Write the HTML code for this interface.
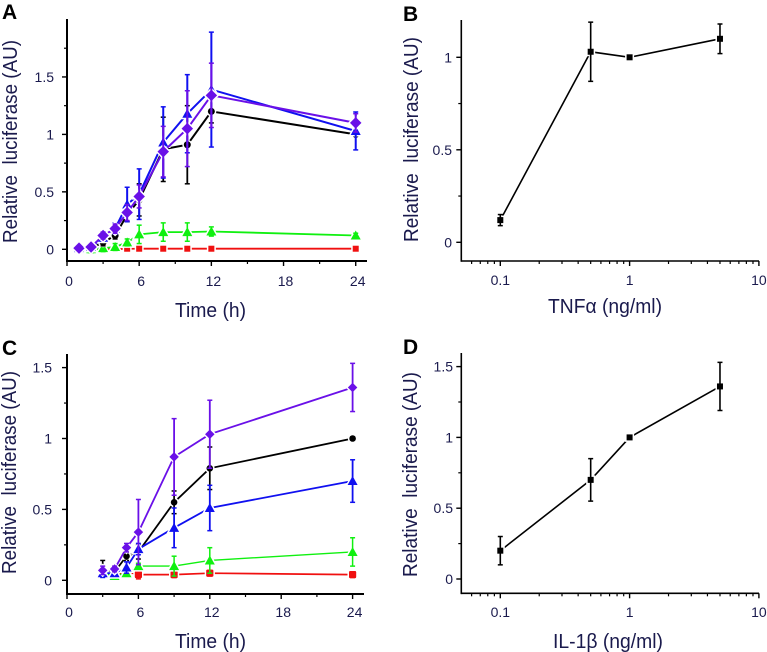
<!DOCTYPE html>
<html>
<head>
<meta charset="utf-8">
<title>Relative luciferase charts</title>
<style>
html,body{margin:0;padding:0;background:#fff;}
svg{display:block;}
text{font-family:"Liberation Sans",sans-serif;fill:#1a1a4d;white-space:pre;}
</style>
</head>
<body>
<svg id="fig" width="767" height="652" viewBox="0 0 767 652" xmlns="http://www.w3.org/2000/svg"></svg>
<script>
// Panel A
const hoursA = [1, 2, 3, 4, 5, 6, 8, 10, 12, 24];
const redA = [0, 0, 0, 0, 0.005, 0.005, 0.005, 0.005, 0.005, 0.005];
const redAErr = [0, 0, 0, 0, 0, 0, 0, 0, 0, 0];
const greenA = [0, 0, 0.01, 0.02, 0.06, 0.13, 0.15, 0.15, 0.155, 0.12];
const greenAErr = [0.01, 0.03, 0.03, 0.03, 0.03, 0.08, 0.08, 0.08, 0.04, 0.02];
const blackA = [0.01, 0.01, 0.06, 0.12, 0.3, 0.43, 0.87, 0.91, 1.2, 1.0];
const blackAErr = [0.01, 0.02, 0.03, 0.03, 0.06, 0.14, 0.28, 0.34, 0.1, 0.01];
const blueA = [0.01, 0.02, 0.1, 0.18, 0.39, 0.48, 0.93, 1.18, 1.39, 1.03];
const blueAErr = [0.01, 0.02, 0.03, 0.05, 0.15, 0.22, 0.31, 0.34, 0.5, 0.165];
const purpleA = [0.01, 0.02, 0.12, 0.18, 0.32, 0.46, 0.85, 1.05, 1.34, 1.1];
const purpleAErr = [0.01, 0.02, 0.03, 0.04, 0.07, 0.1, 0.22, 0.33, 0.28, 0.08];
// Panel C
const hoursC = [3, 4, 5, 6, 9, 12, 24];
const redC = [0.05, 0.04, 0.06, 0.04, 0.04, 0.05, 0.04];
const redCErr = [0.01, 0.01, 0.02, 0.03, 0.02, 0.02, 0.02];
const greenC = [0.05, 0.03, 0.05, 0.1, 0.1, 0.14, 0.2];
const greenCErr = [0.02, 0.01, 0.02, 0.02, 0.07, 0.09, 0.1];
const blackC = [0.08, 0.06, 0.17, 0.2, 0.55, 0.79, 1.0];
const blackCErr = [0.06, 0.02, 0.03, 0.05, 0.08, 0.15, 0.01];
const blueC = [0.05, 0.05, 0.09, 0.22, 0.37, 0.51, 0.7];
const blueCErr = [0.03, 0.01, 0.04, 0.04, 0.14, 0.16, 0.15];
const purpleC = [0.07, 0.08, 0.23, 0.34, 0.87, 1.03, 1.36];
const purpleCErr = [0.03, 0.02, 0.03, 0.23, 0.27, 0.24, 0.17];
// Panels B and D
const doseB = [0.1, 0.5, 1, 5];
const valuesB = [0.12, 1.03, 1.0, 1.1];
const errorsB = [0.03, 0.16, 0.01, 0.08];
const doseD = [0.1, 0.5, 1, 5];
const valuesD = [0.2, 0.7, 1.0, 1.36];
const errorsD = [0.1, 0.15, 0.01, 0.17];
// Tick labels
const timeTicks = [0, 6, 12, 18, 24];
const timeMinorTicks = [3, 9, 15, 21];
const yTicksA = [0, 0.5, 1, 1.5];
const yMinorA = [0.25, 0.75, 1.25, 1.75];
const yTicksB = [0, 0.5, 1];
const yMinorB = [0.25, 0.75];
const yTicksC = [0, 0.5, 1, 1.5];
const yMinorC = [0.25, 0.75, 1.25];
const yTicksD = [0, 0.5, 1, 1.5];
const yMinorD = [0.25, 0.75, 1.25];
const doseTicks = [0.1, 1, 10];
const doseMinor = [0.06, 0.07, 0.08, 0.09, 0.2, 0.3, 0.4, 0.5, 0.6, 0.7, 0.8, 0.9, 2, 3, 4, 5, 6, 7, 8, 9];

const NS = 'http://www.w3.org/2000/svg';
const fig = document.getElementById('fig');

function el(parent, tag, attrs, name) {
  const e = document.createElementNS(NS, tag);
  for (const k in attrs) e.setAttribute(k, attrs[k]);
  
  
  parent.appendChild(e);
  return e;
}
function label(parent, str, attrs, name) {
  const t = el(parent, 'text', attrs, name);
  t.textContent = str;
  return t;
}
function linX(x0, px) { return v => x0 + v * px; }
function logX(x1, px) { return v => x1 + Math.log10(v / 0.1) * px; }
function linY(y0, px) { return v => y0 - v * px; }

function marker(g, kind, x, y, color, size) {
  const s = size;
  const halo = {fill: color, stroke: '#fff', 'stroke-width': 3, 'paint-order': 'stroke'};
  if (kind === 'square') {
    el(g, 'rect', Object.assign({x: x - s, y: y - s, width: 2 * s, height: 2 * s, rx: s > 3 ? 1.2 : 0}, halo), 'square-marker');
  } else if (kind === 'circle') {
    el(g, 'circle', Object.assign({cx: x, cy: y, r: s}, halo), 'circle-marker');
  } else if (kind === 'triangle') {
    el(g, 'polygon', Object.assign({points: `${x},${y - s * 1.25} ${x + s * 1.25},${y + s} ${x - s * 1.25},${y + s}`}, halo), 'triangle-marker');
  } else {
    el(g, 'polygon', Object.assign({points: `${x},${y - s * 1.25} ${x + s * 1.25},${y} ${x},${y + s * 1.25} ${x - s * 1.25},${y}`}, halo), 'diamond-marker');
  }
}

function series(parent, name, xs, ys, errs, sx, sy, color, kind, size, lw, errW) {
  const g = el(parent, 'g', {}, name);
  const pts = xs.map((x, i) => `${sx(x).toFixed(1)},${sy(ys[i]).toFixed(1)}`).join(' ');
  el(g, 'polyline', {points: pts, fill: 'none', stroke: color, 'stroke-width': lw}, name + '-line');
  xs.forEach((x, i) => marker(g, kind, sx(x), sy(ys[i]), color, size));
  xs.forEach((x, i) => {
    const px = sx(x), top = sy(ys[i] + errs[i]), bot = sy(ys[i] - errs[i]);
    if (errs[i] > 0) {
      el(g, 'line', {x1: px, x2: px, y1: top, y2: bot, stroke: color, 'stroke-width': errW}, name + '-error-bar');
      el(g, 'line', {x1: px - 2.5, x2: px + 2.5, y1: top, y2: top, stroke: color, 'stroke-width': 1.5}, name + '-error-cap');
      el(g, 'line', {x1: px - 2.5, x2: px + 2.5, y1: bot, y2: bot, stroke: color, 'stroke-width': 1.5}, name + '-error-cap');
    }
  });
}

function axes(p) {
  const g = el(fig, 'g', {}, p.id + '-axes');
  const axisColor = '#000';
  el(g, 'line', {x1: p.left, x2: p.left, y1: p.top, y2: p.bottom + p.axisW / 2, stroke: axisColor, 'stroke-width': p.axisW}, 'y-axis-line');
  el(g, 'line', {x1: p.left, x2: p.right, y1: p.bottom, y2: p.bottom, stroke: axisColor, 'stroke-width': p.axisW}, 'x-axis-line');
  p.yTicks.forEach(v => {
    el(g, 'line', {x1: p.left - 5, x2: p.left, y1: p.sy(v), y2: p.sy(v), stroke: axisColor, 'stroke-width': 1.4}, 'y-tick');
    label(g, String(v), {x: p.ylabelX, y: p.sy(v) + 5, 'text-anchor': 'end', 'font-size': 14}, 'y-tick-label');
  });
  p.yMinor.forEach(v => {
    el(g, 'line', {x1: p.left - 3, x2: p.left, y1: p.sy(v), y2: p.sy(v), stroke: axisColor, 'stroke-width': 1.2}, 'y-minor-tick');
  });
  p.xTicks.forEach(v => {
    el(g, 'line', {x1: p.sx(v), x2: p.sx(v), y1: p.bottom, y2: p.bottom + 5, stroke: axisColor, 'stroke-width': 1.4}, 'x-tick');
    label(g, String(v), {x: p.sx(v) + p.xlabelDx, y: p.xlabelY, 'text-anchor': 'middle', 'font-size': 14}, 'x-tick-label');
  });
  p.xMinor.forEach(v => {
    el(g, 'line', {x1: p.sx(v), x2: p.sx(v), y1: p.bottom, y2: p.bottom + 3, stroke: axisColor, 'stroke-width': 1.2}, 'x-minor-tick');
  });
  label(g, p.xTitle, {x: p.xTitleX, y: p.xTitleY, 'font-size': 20, textLength: p.xTitleLen, lengthAdjust: 'spacingAndGlyphs'}, 'x-axis-title');
  label(g, 'Relative  luciferase (AU)', {
    transform: `translate(${p.yTitleX},${p.yTitleY}) rotate(-90)`,
    'font-size': 20, textLength: p.yTitleLen, lengthAdjust: 'spacingAndGlyphs'
  }, 'y-axis-title');
  const l = label(g, p.letter, {x: p.letterX, y: p.letterY, 'font-size': 21, 'font-weight': 'bold'}, 'panel-label');
  l.style.fill = '#000';
  return g;
}

const COLORS = {red: '#f01010', green: '#10f010', black: '#000000', blue: '#1010f0', purple: '#6a10e8'};

// Panel A
const ax = linX(67, 12.03), ay = linY(249.3, 114.9);
const pA = {id: 'panel-a', letter: 'A', letterX: 2, letterY: 19, left: 67, right: 367, top: 19, bottom: 261, axisW: 2,
  sx: ax, sy: ay, yTicks: yTicksA, yMinor: yMinorA, xTicks: timeTicks, xMinor: timeMinorTicks,
  ylabelX: 54, xlabelDx: 2, xlabelY: 286, xTitle: 'Time (h)', xTitleX: 175, xTitleY: 317, xTitleLen: 71,
  yTitleX: 17, yTitleY: 243, yTitleLen: 203};
const gA = axes(pA);
series(gA, 'red-series-a', hoursA, redA, redAErr, ax, ay, COLORS.red, 'square', 3, 1.8, 1.6);
series(gA, 'green-series-a', hoursA, greenA, greenAErr, ax, ay, COLORS.green, 'triangle', 4, 1.8, 1.6);
series(gA, 'black-series-a', hoursA, blackA, blackAErr, ax, ay, COLORS.black, 'circle', 3.5, 2, 1.8);
series(gA, 'blue-series-a', hoursA, blueA, blueAErr, ax, ay, COLORS.blue, 'triangle', 4, 2, 2);
series(gA, 'purple-series-a', hoursA, purpleA, purpleAErr, ax, ay, COLORS.purple, 'diamond', 4.6, 2, 2);

// Panel C
const cx = linX(67, 11.9), cy = linY(580.3, 141.8);
const pC = {id: 'panel-c', letter: 'C', letterX: 2, letterY: 355, left: 67, right: 364, top: 354, bottom: 594, axisW: 2,
  sx: cx, sy: cy, yTicks: yTicksC, yMinor: yMinorC, xTicks: timeTicks, xMinor: timeMinorTicks,
  ylabelX: 52, xlabelDx: 2, xlabelY: 617, xTitle: 'Time (h)', xTitleX: 175, xTitleY: 648, xTitleLen: 71,
  yTitleX: 16, yTitleY: 574, yTitleLen: 203};
const gC = axes(pC);
series(gC, 'red-series-c', hoursC, redC, redCErr, cx, cy, COLORS.red, 'square', 3.6, 1.7, 1.5);
series(gC, 'green-series-c', hoursC, greenC, greenCErr, cx, cy, COLORS.green, 'triangle', 4, 1.4, 1.5);
series(gC, 'black-series-c', hoursC, blackC, blackCErr, cx, cy, COLORS.black, 'circle', 3.3, 1.8, 1.7);
series(gC, 'blue-series-c', hoursC, blueC, blueCErr, cx, cy, COLORS.blue, 'triangle', 4, 1.8, 1.8);
series(gC, 'purple-series-c', hoursC, purpleC, purpleCErr, cx, cy, COLORS.purple, 'diamond', 3.8, 1.8, 1.8);

// Panel B
const bx = logX(500.3, 129.3), by = linY(242.3, 185);
const pB = {id: 'panel-b', letter: 'B', letterX: 403, letterY: 21, left: 461.3, right: 759, top: 20, bottom: 261, axisW: 1.6,
  sx: bx, sy: by, yTicks: yTicksB, yMinor: yMinorB, xTicks: doseTicks, xMinor: doseMinor,
  ylabelX: 452, xlabelDx: 0, xlabelY: 285, xTitle: 'TNFα (ng/ml)', xTitleX: 548, xTitleY: 313, xTitleLen: 114,
  yTitleX: 418, yTitleY: 242, yTitleLen: 205};
const gB = axes(pB);
series(gB, 'tnf-series', doseB, valuesB, errorsB, bx, by, COLORS.black, 'square', 3, 1.6, 1.6);

// Panel D
const dx = logX(500.3, 129.3), dy = linY(579, 141.6);
const pD = {id: 'panel-d', letter: 'D', letterX: 403, letterY: 354, left: 461.3, right: 759, top: 353, bottom: 593.3, axisW: 1.6,
  sx: dx, sy: dy, yTicks: yTicksD, yMinor: yMinorD, xTicks: doseTicks, xMinor: doseMinor,
  ylabelX: 453, xlabelDx: 0, xlabelY: 617, xTitle: 'IL-1β (ng/ml)', xTitleX: 553, xTitleY: 648, xTitleLen: 110,
  yTitleX: 417, yTitleY: 577, yTitleLen: 205};
const gD = axes(pD);
series(gD, 'il1-series', doseD, valuesD, errorsD, dx, dy, COLORS.black, 'square', 3, 1.6, 1.6);
</script>
</body>
</html>
